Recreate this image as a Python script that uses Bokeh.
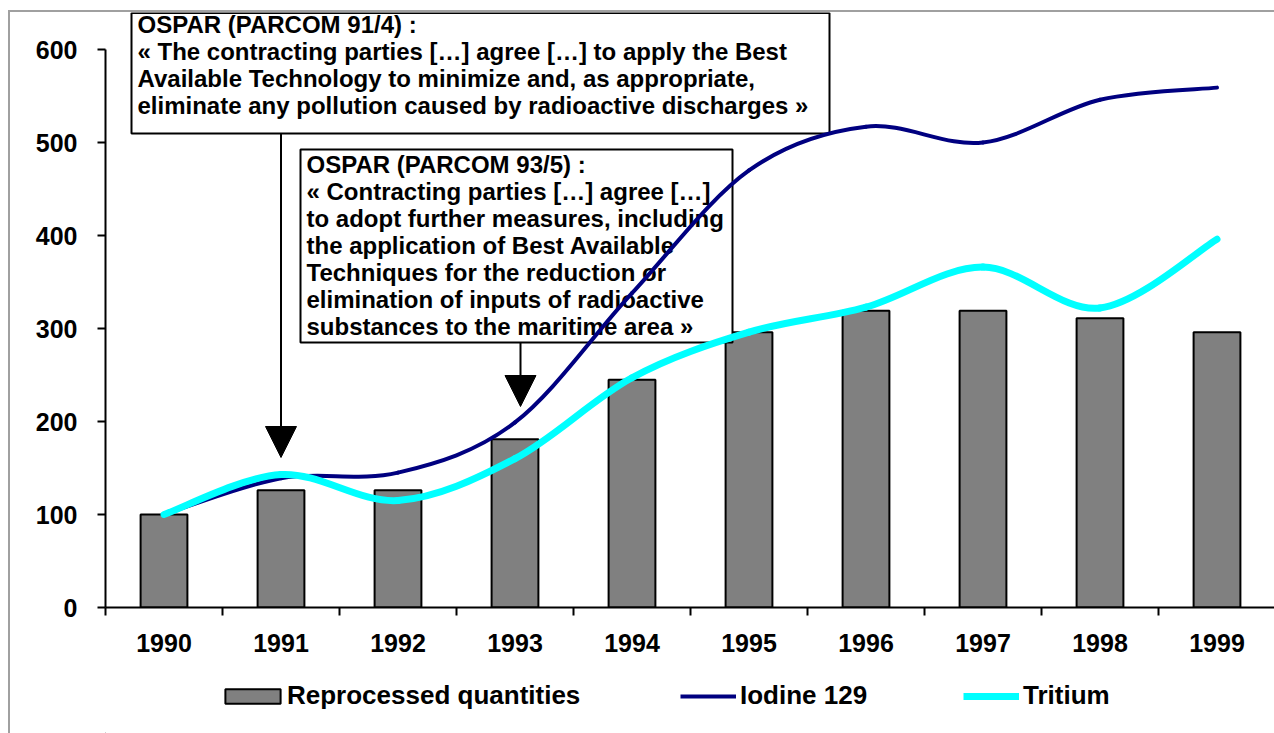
from bokeh.plotting import figure
from bokeh.layouts import column
from bokeh.models import (FixedTicker, Range1d, Legend, LegendItem, Arrow, NormalHead)
from bokeh.core.properties import value
from bokeh.embed import file_html
from bokeh.resources import INLINE

# ---------------- data ----------------
years = ["1990", "1991", "1992", "1993", "1994", "1995", "1996", "1997", "1998", "1999"]
reprocessed = [100, 126, 126, 181, 245, 296, 319, 319, 311, 296]
iodine_129 = [100, 139, 145, 199, 338, 470, 517, 500, 546, 559]
tritium = [100, 143, 115, 160, 247, 296, 323, 366, 322, 396]
y_ticks = [0, 100, 200, 300, 400, 500, 600]
series_names = ["Reprocessed quantities", "Iodine 129", "Tritium"]

note1_lines = [
    "OSPAR (PARCOM 91/4) :",
    "\u00ab The contracting parties [\u2026] agree [\u2026] to apply the Best",
    "Available Technology to minimize and, as appropriate,",
    "eliminate any pollution caused by radioactive discharges \u00bb",
]
note2_lines = [
    "OSPAR (PARCOM 93/5) :",
    "\u00ab Contracting parties [\u2026] agree [\u2026]",
    "to adopt further measures, including",
    "the application of Best Available",
    "Techniques for the reduction or",
    "elimination of inputs of radioactive",
    "substances to the maritime area \u00bb",
]
note1_year = 1   # index of 1991
note2_year = 3   # index of 1993

# ---------------- layout ----------------
OX, OY = 10, 12            # canvas origin on the page (after border)
SPLIT = 665                # page y where the legend strip starts
W = 1274 - OX
HM = SPLIT - OY
HL = 733 - SPLIT
FRAME_LEFT_PX, FRAME_BOTTOM_PX = 105, 607
LEFT = FRAME_LEFT_PX - OX
BOTTOM = SPLIT - FRAME_BOTTOM_PX
CAT_PX = 117.0
PX_PER_UNIT = 0.93
FONT_NAME = "Liberation Sans"
FONT = value(FONT_NAME)
NAVY, CYAN, GRAY = "#000080", "#00FFFF", "#808080"

x_end = -0.5 + (W - LEFT) / CAT_PX
y_end = (FRAME_BOTTOM_PX - OY) / PX_PER_UNIT


def dx(px):  # page pixel -> data x
    return (px - FRAME_LEFT_PX) / CAT_PX - 0.5


def dy(py):  # page pixel -> data y
    return (FRAME_BOTTOM_PX - py) / PX_PER_UNIT


p = figure(width=W, height=HM, output_backend="svg", toolbar_location=None,
           x_range=Range1d(-0.5, x_end), y_range=Range1d(0, y_end),
           min_border_left=LEFT, min_border_right=0, min_border_top=0,
           min_border_bottom=BOTTOM)
p.outline_line_color = None
p.xgrid.visible = False
p.ygrid.visible = False
p.background_fill_color = "white"
p.border_fill_color = "white"

xs = list(range(len(years)))

# axes
xa = p.xaxis[0]
xa.ticker = FixedTicker(ticks=xs, minor_ticks=[i - 0.5 for i in range(len(years) + 1)])
xa.major_label_overrides = {i: y for i, y in enumerate(years)}
xa.major_tick_out = 0
xa.major_tick_in = 0
xa.minor_tick_out = 8
xa.minor_tick_in = 0
xa.minor_tick_line_width = 2
xa.minor_tick_line_color = "black"
xa.axis_line_width = 2
xa.axis_line_color = "black"
xa.major_label_standoff = 18
xa.major_label_text_font = FONT_NAME
xa.major_label_text_font_style = "bold"
xa.major_label_text_font_size = "25px"
xa.major_label_text_color = "black"

ya = p.yaxis[0]
ya.ticker = FixedTicker(ticks=y_ticks, minor_ticks=[])
ya.bounds = (0, 600)
ya.major_tick_out = 8
ya.major_tick_in = 0
ya.minor_tick_out = 0
ya.minor_tick_in = 0
ya.major_tick_line_width = 2
ya.major_tick_line_color = "black"
ya.axis_line_width = 2
ya.axis_line_color = "black"
ya.major_label_standoff = 20
ya.major_label_text_font = FONT_NAME
ya.major_label_text_font_style = "bold"
ya.major_label_text_font_size = "25px"
ya.major_label_text_color = "black"

# bars
bar_style = dict(fill_color=GRAY, line_color="black", line_width=2)
p.vbar(x=xs, top=reprocessed, width=0.4, bottom=0, **bar_style)

# annotation boxes
p.quad(left=[dx(131), dx(300)], right=[dx(829), dx(732)],
       top=[dy(12.5), dy(149)], bottom=[dy(133), dy(342)],
       fill_color="white", line_color="black", line_width=2)
p.text(x=[dx(137), dx(306)], y=[dy(10.5), dy(150.5)],
       text=["\n".join(note1_lines), "\n".join(note2_lines)],
       text_font=FONT, text_font_style="bold", text_font_size="24px",
       text_baseline="top", text_align="left", text_line_height=1.0,
       text_color="black")

for ax, top_px, tip_px in [(note1_year, 133, 457), (note2_year + 0.047, 342, 406)]:
    p.add_layout(Arrow(end=NormalHead(size=31, fill_color="black", line_color="black", line_width=1),
                       x_start=ax, y_start=dy(top_px), x_end=ax, y_end=dy(tip_px),
                       line_width=2, line_color="black"))


# smoothed lines (Bezier segments through the data points)
def bezier_segments(xv, yv):
    n = len(xv)
    x0, y0, x1, y1, cx0, cy0, cx1, cy1 = [], [], [], [], [], [], [], []
    for i in range(n - 1):
        pm = i - 1 if i > 0 else i
        pn = i + 2 if i + 2 < n else i + 1
        x0.append(xv[i]); y0.append(yv[i])
        x1.append(xv[i + 1]); y1.append(yv[i + 1])
        cx0.append(xv[i] + (xv[i + 1] - xv[pm]) / 6.0)
        cy0.append(yv[i] + (yv[i + 1] - yv[pm]) / 6.0)
        cx1.append(xv[i + 1] - (xv[pn] - xv[i]) / 6.0)
        cy1.append(yv[i + 1] - (yv[pn] - yv[i]) / 6.0)
    return dict(x0=x0, y0=y0, x1=x1, y1=y1, cx0=cx0, cy0=cy0, cx1=cx1, cy1=cy1)


iod_style = dict(line_color=NAVY, line_width=4)
tri_style = dict(line_color=CYAN, line_width=7)
p.bezier(**bezier_segments(xs, iodine_129), line_cap="round", **iod_style)
p.bezier(**bezier_segments(xs, tritium), line_cap="round", **tri_style)

# ---------------- legend strip ----------------
pl = figure(width=W, height=HL, output_backend="svg", toolbar_location=None,
            x_range=Range1d(0, 10), y_range=Range1d(0, 10),
            x_axis_type=None, y_axis_type=None, min_border=0)
pl.outline_line_color = None
pl.background_fill_color = "white"
pl.border_fill_color = "white"

# legend swatches: proxies carrying the series' styles, placed outside the visible range
r_bar = pl.vbar(x=[-100], top=[-100], bottom=[-101], width=1, **bar_style)
r_iod = pl.line(x=[-100, -99], y=[-100, -100], **iod_style)
r_tri = pl.line(x=[-100, -99], y=[-100, -100], **tri_style)

leg_common = dict(orientation="horizontal", padding=0, margin=0, border_line_color=None,
                  background_fill_alpha=0, label_text_font=FONT_NAME,
                  label_text_font_style="bold", label_text_font_size="26px",
                  label_text_color="black")
LEG_Y = 22
for name, rend, gx, gw, gh, standoff in [
        (series_names[0], r_bar, 218, 69, 18, 0),
        (series_names[1], r_iod, 680, 56, 18, 4),
        (series_names[2], r_tri, 963, 56, 18, 4)]:
    pl.add_layout(Legend(items=[LegendItem(label=name, renderers=[rend])],
                         location=(gx - FRAME_LEFT_PX, LEG_Y), glyph_width=gw, glyph_height=gh,
                         label_standoff=standoff, **leg_common), "center")

layout = column(p, pl, spacing=0,
                styles={"margin-left": "8px", "margin-top": "10px",
                        "border-left": "2px solid #a0a0a0",
                        "border-top": "2px solid #a0a0a0"})

open("out.html", "w").write(file_html(layout, INLINE))
